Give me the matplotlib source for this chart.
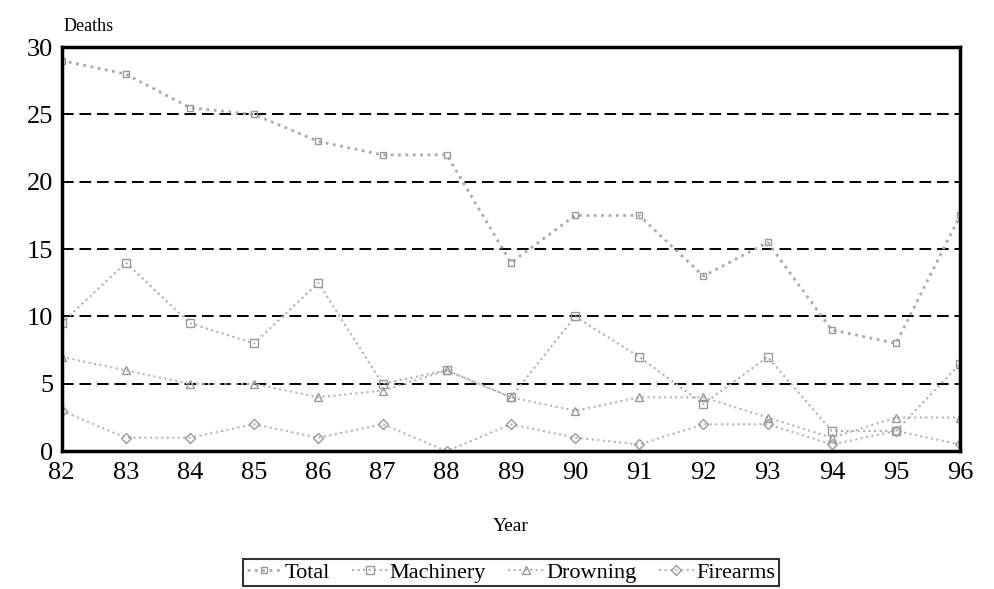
import matplotlib.pyplot as plt

plt.rcParams['font.family'] = ['Liberation Serif', 'DejaVu Serif']

years = [82, 83, 84, 85, 86, 87, 88, 89, 90, 91, 92, 93, 94, 95, 96]
year_labels = [str(y) for y in years]

total = [29, 28, 25.5, 25, 23, 22, 22, 14, 17.5, 17.5, 13, 15.5, 9, 8, 17.5]
machinery = [9.5, 14, 9.5, 8, 12.5, 5, 6, 4, 10, 7, 3.5, 7, 1.5, 1.5, 6.5]
drowning = [7, 6, 5, 5, 4, 4.5, 6, 4, 3, 4, 4, 2.5, 1, 2.5, 2.5]
firearms = [3, 1, 1, 2, 1, 2, 0, 2, 1, 0.5, 2, 2, 0.5, 1.5, 0.5]

fig = plt.figure(figsize=(9.94, 5.89), dpi=100)
ax = fig.add_axes([0.062, 0.234, 0.904, 0.686])

ax.plot(years, total, color='#aaaaaa', lw=2, ls=':', marker='s', ms=5,
        mfc='none', mec='#999999', label='Total')
ax.plot(years, machinery, color='#b0b0b0', lw=1.5, ls=':', marker='s', ms=6,
        mfc='none', mec='#999999', label='Machinery')
ax.plot(years, drowning, color='#b5b5b5', lw=1.5, ls=':', marker='^', ms=6,
        mfc='none', mec='#999999', label='Drowning')
ax.plot(years, firearms, color='#b5b5b5', lw=1.5, ls=':', marker='D', ms=5,
        mfc='none', mec='#999999', label='Firearms')

for v in [5, 10, 15, 20, 25]:
    ax.axhline(v, color='black', ls=(0, (6, 3)), lw=1.4, zorder=0)

ax.set_xlim(82, 96)
ax.set_ylim(0, 30)
ax.set_xticks(years)
ax.set_xticklabels(year_labels, fontsize=19)
ax.set_yticks([0, 5, 10, 15, 20, 25, 30])
ax.tick_params(axis='y', labelsize=19, length=0, pad=6)
ax.tick_params(axis='x', length=0, pad=8)
for s in ax.spines.values():
    s.set_linewidth(2.5)

fig.text(0.064, 0.955, 'Deaths', fontsize=13, ha='left', va='center')
ax.set_xlabel('Year', fontsize=14, labelpad=24)

leg = ax.legend(loc='upper center', bbox_to_anchor=(0.5, -0.24), ncol=4,
                fontsize=16, frameon=True, fancybox=False, handlelength=1.6,
                handletextpad=0.1, columnspacing=1.0, borderpad=0.15)
leg.get_frame().set_edgecolor('black')
leg.get_frame().set_linewidth(1.5)

fig.savefig('out.png', dpi=100)
